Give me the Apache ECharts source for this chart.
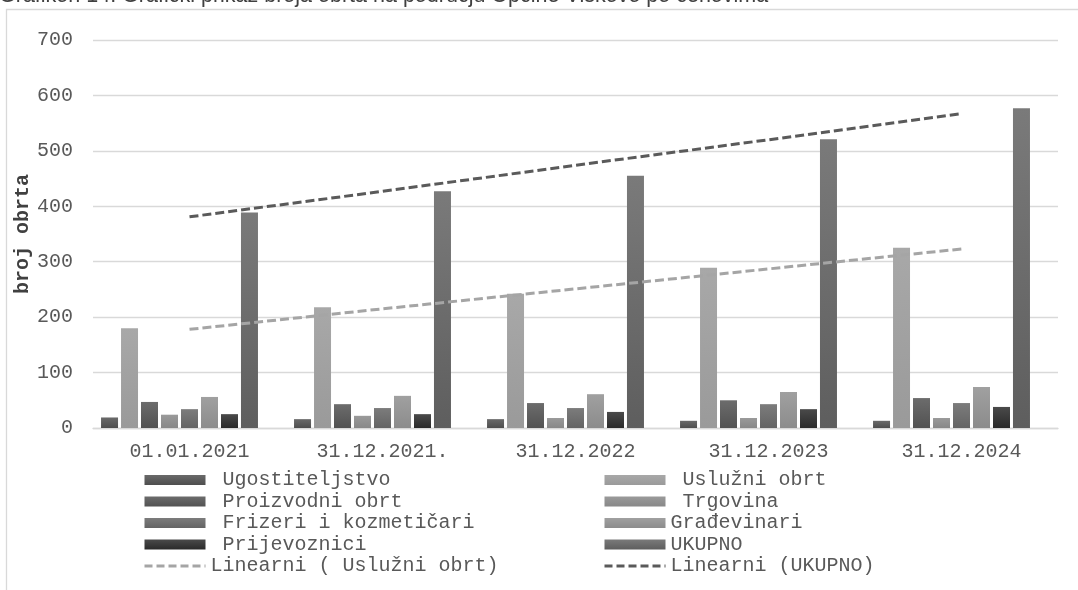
<!DOCTYPE html>
<html>
<head>
<meta charset="utf-8">
<script src="https://cdn.jsdelivr.net/npm/echarts@6/dist/echarts.min.js"></script>
<style>
  html, body { margin: 0; padding: 0; background: #fff; }
  #chart { width: 1078px; height: 590px; }
</style>
</head>
<body>
<div id="chart"></div>
<script>
// Broj obrta po cehovima, Općina Viškovo
const dates = ['01.01.2021', '31.12.2021.', '31.12.2022', '31.12.2023', '31.12.2024']
const yTicks = [0, 100, 200, 300, 400, 500, 600, 700]

const ugostiteljstvo = [19, 16, 16, 13, 13]
const usluzni = [180, 218, 242, 289, 325]
const proizvodni = [47, 43, 45, 50, 54]
const trgovina = [24, 22, 18, 18, 18]
const frizeri = [34, 36, 36, 43, 45]
const gradevinari = [56, 58, 61, 65, 74]
const prijevoznici = [25, 25, 29, 34, 38]
const ukupno = [389, 427, 455, 521, 577]
// Excel keeps an empty 9th slot in each group, so the bars sit a little left of the label
const prazno = [null, null, null, null, null]

// trend lines
const trendUsluzni = [178, 215, 251, 287, 323]
const trendUkupno = [381, 427, 474, 520, 567]

const MONO = "'Liberation Mono', 'Courier New', monospace"
const TXT = '#595959'

function grad(top, bottom) {
  return new echarts.graphic.LinearGradient(0, 0, 0, 1, [
    { offset: 0, color: top },
    { offset: 1, color: bottom },
  ])
}

function bar(name, data, top, bottom) {
  return {
    name, type: 'bar', data,
    barWidth: 17, barGap: '17.6%',
    itemStyle: { color: grad(top, bottom) },
  }
}

function trend(name, data, color) {
  return {
    name, type: 'line', data, symbol: 'none', z: 5,
    lineStyle: { color, width: 3, type: [9, 4] },
    itemStyle: { color },
  }
}

// legend entry: bars get a plain rect, trend lines only the dashed stroke
const barItem = (name) => ({ name, icon: 'rect' })
const lineItem = (name) => ({ name, itemStyle: { opacity: 0 }, lineStyle: { width: 3, type: [8, 4] } })

const chart = echarts.init(document.getElementById('chart'))

const legendBase = {
  orient: 'vertical',
  top: 465,
  itemWidth: 61,
  itemHeight: 10,
  itemGap: 1.5,
  selectedMode: false,
  textStyle: { color: TXT, fontFamily: MONO, fontSize: 20, lineHeight: 20 },
}

chart.setOption({
  animation: false,
  backgroundColor: '#fff',
  graphic: [
    {
      type: 'rect', silent: true, z: -1,
      shape: { x: 6.5, y: 9.5, width: 1200, height: 800 },
      style: { fill: 'none', stroke: '#d9d9d9', lineWidth: 1.3 },
    },
    {
      type: 'text', left: -1, top: -15, silent: true,
      style: {
        text: 'Grafikon 14. Grafički prikaz broja obrta na području Općine Viškovo po cehovima',
        fill: '#404040', font: "21.5px 'Liberation Sans', Arial, sans-serif",
      },
    },
  ],
  grid: { left: 93, right: 20, top: 40, bottom: 162, containLabel: false, outerBoundsMode: 'none' },
  legend: [
    {
      ...legendBase, left: 138,
      data: [
        barItem(' Ugostiteljstvo'), barItem(' Proizvodni obrt'), barItem(' Frizeri i kozmetičari'),
        barItem(' Prijevoznici'), lineItem('Linearni ( Uslužni obrt)'),
      ],
    },
    {
      ...legendBase, left: 598,
      data: [
        barItem(' Uslužni obrt'), barItem(' Trgovina'), barItem('Građevinari'),
        barItem('UKUPNO'), lineItem('Linearni (UKUPNO)'),
      ],
    },
  ],
  xAxis: {
    type: 'category',
    data: dates,
    axisTick: { show: false },
    axisLine: { lineStyle: { color: '#d9d9d9', width: 1.3 } },
    axisLabel: { color: TXT, fontFamily: MONO, fontSize: 20, margin: 14 },
  },
  yAxis: {
    type: 'value',
    min: yTicks[0],
    max: yTicks[yTicks.length - 1],
    interval: 100,
    name: 'broj obrta',
    nameLocation: 'middle',
    nameGap: 60,
    nameMoveOverlap: false,
    nameTextStyle: { color: '#404040', fontFamily: MONO, fontSize: 20, fontWeight: 'bold' },
    axisLine: { show: false },
    axisTick: { show: false },
    axisLabel: { color: TXT, fontFamily: MONO, fontSize: 20, margin: 20 },
    splitLine: { lineStyle: { color: '#d9d9d9', width: 1.3 } },
  },
  series: [
    bar(' Ugostiteljstvo', ugostiteljstvo, '#6a6a6a', '#4e4e4e'),
    bar(' Uslužni obrt', usluzni, '#a8a8a8', '#9a9a9a'),
    bar(' Proizvodni obrt', proizvodni, '#6c6c6c', '#525252'),
    bar(' Trgovina', trgovina, '#9a9a9a', '#888888'),
    bar(' Frizeri i kozmetičari', frizeri, '#7c7c7c', '#646464'),
    bar('Građevinari', gradevinari, '#a0a0a0', '#8c8c8c'),
    bar(' Prijevoznici', prijevoznici, '#4a4a4a', '#2a2a2a'),
    bar('UKUPNO', ukupno, '#7a7a7a', '#5e5e5e'),
    bar('', prazno, '#ffffff', '#ffffff'),
    trend('Linearni ( Uslužni obrt)', trendUsluzni, '#a5a5a5'),
    trend('Linearni (UKUPNO)', trendUkupno, '#5a5a5a'),
  ],
})
</script>
</body>
</html>
